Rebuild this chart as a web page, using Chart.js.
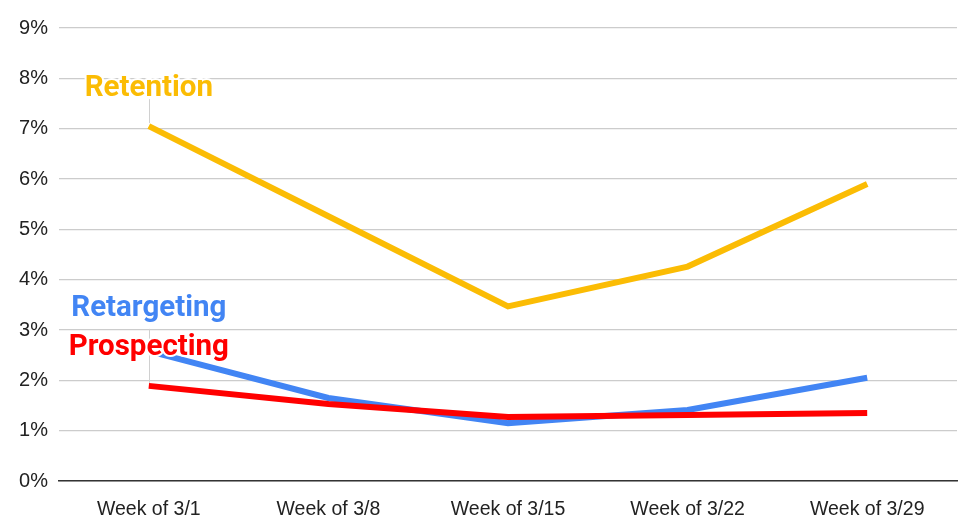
<!DOCTYPE html>
<html>
<head>
<meta charset="utf-8">
<script src="https://cdn.jsdelivr.net/npm/chart.js@4.4.1/dist/chart.umd.min.js"></script>
<style>
  html, body { margin:0; padding:0; background:#fff; }
  #wrap { width:973px; height:522px; }
</style>
</head>
<body>
<div id="wrap"><canvas id="chart" width="973" height="522"></canvas></div>
<script>
// dados (em %)
const weeks = ['Week of 3/1', 'Week of 3/8', 'Week of 3/15', 'Week of 3/22', 'Week of 3/29'];
const retention = [7.05, 5.26, 3.47, 4.26, 5.9];
const retargeting = [2.58, 1.65, 1.15, 1.41, 2.05];
const prospecting = [1.89, 1.53, 1.27, 1.31, 1.35];
const yTicks = [0, 1, 2, 3, 4, 5, 6, 7, 8, 9];

// rótulos das séries junto ao primeiro ponto (deslocamentos em px)
const seriesLabels = {
  Retention:   { textDy: -30, leaderFrom: -27 },
  Retargeting: { textDy: -35, leaderFrom: null },
  Prospecting: { textDy: -31, leaderFrom: -57 }
};

const labelPlugin = {
  id: 'seriesLabels',
  afterDatasetsDraw(chart) {
    const ctx = chart.ctx;
    const items = [];
    chart.data.datasets.forEach((ds, i) => {
      const cfg = seriesLabels[ds.label];
      const pt = chart.getDatasetMeta(i).data[0];
      if (!cfg || !pt) return;
      items.push({ ds, cfg, x: pt.x, y: pt.y });
    });
    ctx.save();
    // linhas guia
    ctx.strokeStyle = '#d0d0d0';
    ctx.lineWidth = 1;
    items.forEach(it => {
      if (it.cfg.leaderFrom == null) return;
      ctx.beginPath();
      ctx.moveTo(Math.round(it.x) + 0.5, it.y + it.cfg.leaderFrom);
      ctx.lineTo(Math.round(it.x) + 0.5, it.y - 3);
      ctx.stroke();
    });
    // textos
    ctx.font = 'bold 29.5px Roboto, "Noto Sans", sans-serif';
    ctx.textAlign = 'center';
    ctx.textBaseline = 'alphabetic';
    ctx.lineJoin = 'round';
    items.forEach(it => {
      ctx.strokeStyle = '#fff';
      ctx.lineWidth = 4;
      ctx.strokeText(it.ds.label, it.x, it.y + it.cfg.textDy);
      ctx.fillStyle = it.ds.borderColor;
      ctx.fillText(it.ds.label, it.x, it.y + it.cfg.textDy);
    });
    ctx.restore();
  }
};

const tickFont = { family: 'Arial, "Liberation Sans", sans-serif', size: 19.5 };

new Chart(document.getElementById('chart').getContext('2d'), {
  type: 'line',
  data: {
    labels: weeks,
    datasets: [
      { label: 'Retention', data: retention, borderColor: '#FBBC04' },
      { label: 'Prospecting', data: prospecting, borderColor: '#FF0000' },
      { label: 'Retargeting', data: retargeting, borderColor: '#4285F4' }
    ].map(d => Object.assign(d, { borderWidth: 6, pointRadius: 0, tension: 0, fill: false, borderCapStyle: 'butt' }))
  },
  options: {
    responsive: false,
    animation: false,
    events: [],
    layout: { padding: { top: 28, right: 16, bottom: 0, left: 0 } },
    plugins: { legend: { display: false }, tooltip: { enabled: false } },
    scales: {
      x: {
        offset: true,
        grid: { display: false },
        border: { display: true, color: '#333', width: 1.5 },
        ticks: { color: '#222', font: tickFont, padding: 9, maxRotation: 0 },
        afterFit: s => { s.height = 41; }
      },
      y: {
        min: yTicks[0],
        max: yTicks[yTicks.length - 1],
        afterBuildTicks: s => { s.ticks = yTicks.map(v => ({ value: v })); },
        grid: { color: '#cccccc', lineWidth: 1.2, drawTicks: false },
        border: { display: false },
        ticks: { color: '#222', font: { family: tickFont.family, size: 20 }, padding: 11, callback: v => v + '%' },
        afterFit: s => { s.width = 59; }
      }
    }
  },
  plugins: [labelPlugin]
});
</script>
</body>
</html>
